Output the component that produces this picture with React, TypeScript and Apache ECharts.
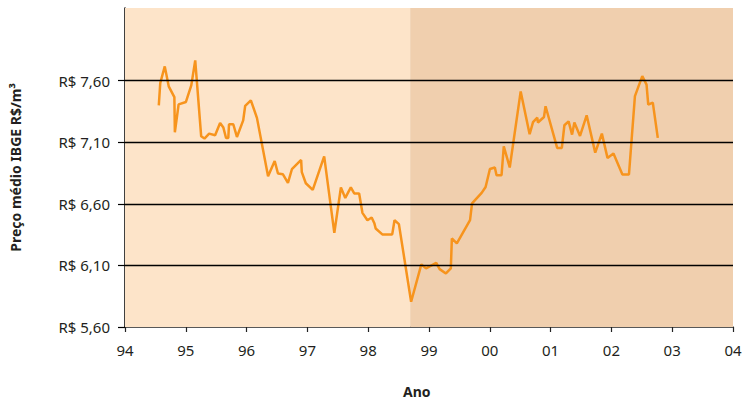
import React, { useEffect, useRef } from "react";
import * as echarts from "echarts";

// Decimal year (94 = 1994, 100 = 2000, ...) and average IBGE price (R$/m³)
const years: number[] = [
  94.556, 94.58, 94.654, 94.719, 94.812, 94.82, 94.882, 95.002, 95.09, 95.155,
  95.253, 95.307, 95.384, 95.482, 95.564, 95.618, 95.662, 95.699, 95.711, 95.781,
  95.841, 95.944, 95.977, 96.07, 96.17, 96.353, 96.462, 96.516, 96.598, 96.68,
  96.745, 96.897, 96.908, 96.974, 97.088, 97.276, 97.443, 97.551, 97.623, 97.714,
  97.77, 97.851, 97.905, 97.987, 98.057, 98.101, 98.123, 98.232, 98.395, 98.433,
  98.505, 98.706, 98.874, 98.951, 99.119, 99.175, 99.278, 99.359, 99.376, 99.458,
  99.675, 99.708, 99.866, 99.931, 100.002, 100.083, 100.111, 100.193, 100.23, 100.328,
  100.508, 100.655, 100.711, 100.781, 100.792, 100.891, 100.917, 101.108, 101.185, 101.227,
  101.296, 101.353, 101.391, 101.484, 101.593, 101.734, 101.843, 101.936, 102.034, 102.181,
  102.289, 102.387, 102.508, 102.578, 102.606, 102.681, 102.763,
];
const prices: number[] = [
  7.4, 7.581, 7.716, 7.554, 7.467, 7.181, 7.408, 7.427, 7.562, 7.765,
  7.148, 7.13, 7.17, 7.157, 7.256, 7.219, 7.135, 7.135, 7.246, 7.246,
  7.143, 7.278, 7.396, 7.44, 7.298, 6.824, 6.948, 6.846, 6.84, 6.77,
  6.881, 6.956, 6.857, 6.767, 6.713, 6.986, 6.364, 6.733, 6.648, 6.733,
  6.684, 6.684, 6.527, 6.467, 6.489, 6.443, 6.4, 6.352, 6.352, 6.467,
  6.435, 5.805, 6.108, 6.076, 6.121, 6.07, 6.035, 6.076, 6.319, 6.279,
  6.467, 6.603, 6.689, 6.737, 6.883, 6.895, 6.832, 6.832, 7.067, 6.895,
  7.513, 7.165, 7.264, 7.3, 7.26, 7.305, 7.392, 7.054, 7.054, 7.238,
  7.27, 7.162, 7.26, 7.151, 7.319, 7.016, 7.17, 6.973, 7.008, 6.838,
  6.838, 7.475, 7.637, 7.568, 7.405, 7.422, 7.135,
];
const yTicks: number[] = [5.6, 6.1, 6.6, 7.1, 7.6];
const gridValues: number[] = [6.1, 6.6, 7.1, 7.6];
const periodSplit = 98.69;
const xMin = 94;
const xMax = 104;

const fmtYear = (v: number) => String(Math.round(v) % 100).padStart(2, "0");
const fmtPrice = (v: number) => "R$ " + v.toFixed(2).replace(".", ",");

export default function App() {
  const ref = useRef<HTMLDivElement>(null);
  useEffect(() => {
    if (!ref.current) return;
    const chart = echarts.init(ref.current, null, { renderer: "svg" });
    const font = "'Noto Sans', sans-serif";
    chart.setOption({
      animation: false,
      backgroundColor: "#ffffff",
      grid: { left: 121, right: 12, top: 8, bottom: 74, containLabel: false },
      xAxis: {
        type: "value",
        min: xMin,
        max: xMax,
        interval: 1,
        axisLine: { show: true, lineStyle: { color: "#222", width: 1.5 } },
        axisTick: { show: true, length: 5, lineStyle: { color: "#222", width: 1.2 } },
        axisLabel: {
          formatter: fmtYear,
          color: "#231f20",
          fontSize: 15,
          fontFamily: font,
          margin: 15,
        },
        splitLine: { show: false },
      },
      yAxis: {
        type: "value",
        min: 5.6,
        max: 8.19,
        name: "Preço médio IBGE R$/m³",
        nameLocation: "middle",
        nameGap: 103,
        nameRotate: 90,
        nameTextStyle: {
          color: "#231f20",
          fontSize: 14,
          fontWeight: "bold",
          fontFamily: font,
        },
        axisLine: { show: true, onZero: false, lineStyle: { color: "#000", width: 1.5 } },
        axisTick: {
          show: true,
          length: 7,
          customValues: yTicks,
          lineStyle: { color: "#000", width: 1.2 },
        },
        axisLabel: {
          customValues: yTicks,
          formatter: fmtPrice,
          color: "#231f20",
          fontSize: 15,
          fontFamily: font,
          margin: 15,
        },
        splitLine: { show: false },
      },
      graphic: [
        {
          type: "text",
          left: 403,
          top: 384,
          style: {
            text: "Ano",
            fill: "#231f20",
            font: "bold 14px 'Noto Sans', sans-serif",
          },
        },
      ],
      series: [
        {
          type: "line",
          data: [],
          z: 1,
          silent: true,
          markArea: {
            silent: true,
            data: [
              [
                { xAxis: xMin, itemStyle: { color: "#fde4c9" } },
                { xAxis: periodSplit },
              ],
              [
                { xAxis: periodSplit, itemStyle: { color: "#f0cfae" } },
                { xAxis: xMax },
              ],
            ],
          },
          markLine: {
            silent: true,
            symbol: "none",
            label: { show: false },
            lineStyle: { color: "#000", width: 1.3, type: "solid" },
            data: gridValues.map((v) => ({ yAxis: v })),
          },
        },
        {
          type: "line",
          z: 3,
          data: years.map((y, i) => [y, prices[i]]),
          showSymbol: false,
          symbol: "none",
          lineStyle: { color: "#f7941d", width: 2.5 },
        },
      ],
    });
    return () => chart.dispose();
  }, []);
  return (
    <div
      ref={ref}
      style={{ position: "fixed", left: 0, top: 0, width: 745, height: 401 }}
    />
  );
}
